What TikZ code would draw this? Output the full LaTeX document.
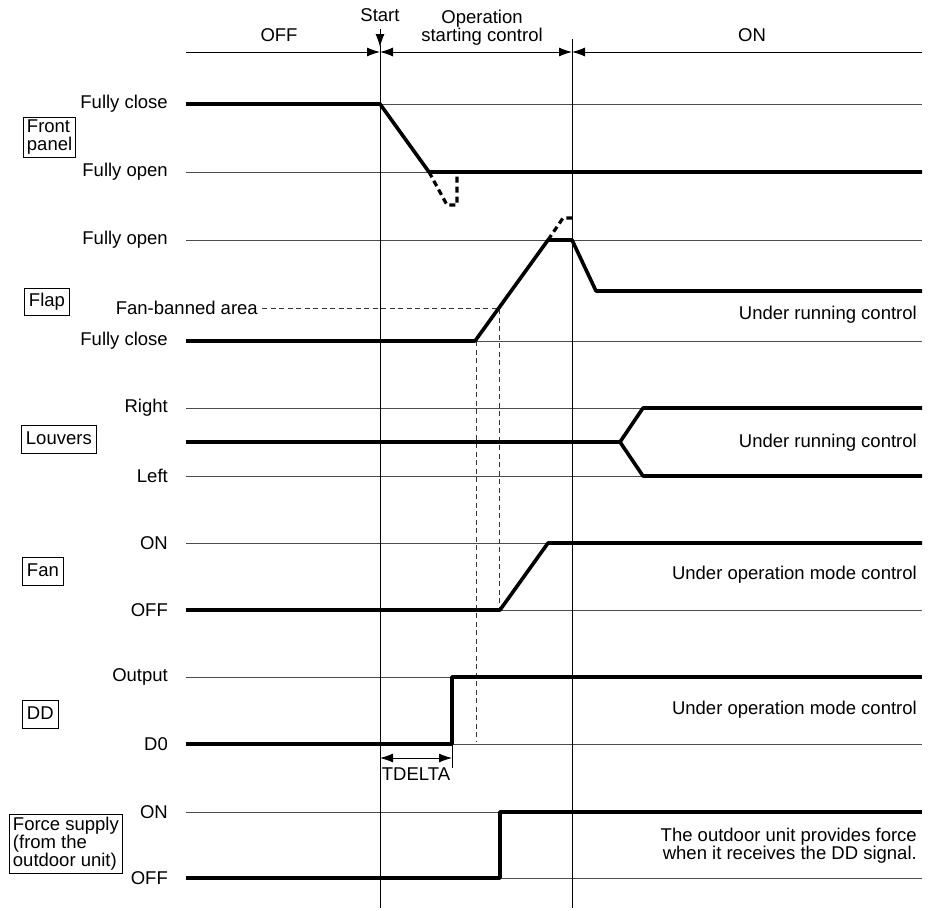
\documentclass[tikz,border=0pt]{standalone}
\usepackage{fontspec}
\setmainfont{Liberation Sans}
\usetikzlibrary{arrows.meta}
\begin{document}
\begin{tikzpicture}[x=1pt,y=-1pt,
  every node/.style={font=\fontsize{18.5}{18}\selectfont, inner sep=0pt},
  gridline/.style={draw=black!70, line width=0.9pt},
  vline/.style={draw=black, line width=0.9pt},
  sig/.style={draw=black, line width=3.6pt, line join=round},
  sigdash/.style={draw=black, line width=3.2pt, dash pattern=on 6pt off 4pt},
  thindash/.style={draw=black!80, line width=0.9pt, dash pattern=on 5pt off 3.5pt},
  lvl/.style={anchor=east},
  rtext/.style={anchor=east, align=right},
  sigbox/.style={draw, line width=0.9pt, anchor=west, inner xsep=4.5pt, inner ysep=5pt, text height=13.5pt, text depth=4pt},
  mbox/.style={draw, line width=0.9pt, anchor=west, inner xsep=3.5pt, inner ysep=3pt, align=left},
  tip/.style={-{Latex[length=13pt,width=9pt]}, line width=0.9pt},
  tips/.style={{Latex[length=13pt,width=9pt]}-{Latex[length=13pt,width=9pt]}, line width=0.9pt}
]
\useasboundingbox (0,0) rectangle (928,910);

% ---- grid lines
\foreach \yy in {104,172,240,341,408,476,543,610,677,744,812,878}
  \draw[gridline] (186,\yy) -- (922,\yy);

% ---- phase verticals
\draw[vline] (380,45) -- (380,908);
\draw[vline] (572,39) -- (572,908);

% ---- top phase arrows
\draw[tip] (186,52) -- (380,52);
\draw[tips] (380,52) -- (572,52);
\draw[tip] (922,52) -- (572,52);
\draw[tip] (380,29) -- (380,47);
\node (start) at (380,15) {Start};
\node (offph) at (279,35) {OFF};
\node[align=center] (opph) at (482,28) {Operation\\starting control};
\node (onph) at (752,35) {ON};

% ---- left level labels
\node[lvl] (fp1) at (168,104) {Fully close};
\node[lvl] (fp2) at (168,172) {Fully open};
\node[lvl] (fl1) at (168,240) {Fully open};
\node[lvl] (fl2) at (168,341) {Fully close};
\node[lvl] (fban) at (258,308) {Fan-banned area};
\node[lvl] (lr) at (168,408) {Right};
\node[lvl] (ll) at (168,476) {Left};
\node[lvl] (fon) at (168,543) {ON};
\node[lvl] (foff) at (168,610) {OFF};
\node[lvl] (dout) at (168,677) {Output};
\node[lvl] (dzero) at (168,744) {D0};
\node[lvl] (son) at (168,812) {ON};
\node[lvl] (soff) at (168,878) {OFF};

% ---- signal name boxes
\node[mbox] (bfront) at (23,137.5) {Front\\panel};
\node[sigbox] (bflap) at (24,302) {Flap};
\node[sigbox] (blouv) at (21,439.5) {Louvers};
\node[sigbox] (bfan) at (22,571.5) {Fan};
\node[sigbox] (bdd) at (22,714.5) {DD};
\node[mbox] (bforce) at (9,844) {Force supply\\(from the\\outdoor unit)};

% ---- right notes
\node[rtext] (n1) at (917,315) {Under running control};
\node[rtext] (n2) at (917,443) {Under running control};
\node[rtext] (n3) at (917,575) {Under operation mode control};
\node[rtext] (n4) at (917,710) {Under operation mode control};
\node[rtext] (n5) at (917,846) {The outdoor unit provides force\\when it receives the DD signal.};

% ---- thin dashed guides
\draw[thindash] (262,308) -- (499,308) -- (499,610);
\draw[thindash] (476,341) -- (476,742);

% ---- signals
\draw[sig] (186,104) -- (380,104) -- (429,172) -- (922,172);
\draw[sigdash] (429,172) -- (447,205) -- (457,205) -- (457,172);

\draw[sig] (186,341) -- (475,341) -- (548,240) -- (572,240) -- (596,291) -- (922,291);
\draw[sigdash] (548,240) -- (563,218) -- (573,218);

\draw[sig] (186,442) -- (620,442) -- (643,408) -- (922,408);
\draw[sig] (620,442) -- (643,476) -- (922,476);

\draw[sig] (186,610) -- (500,610) -- (548,543) -- (922,543);

\draw[sig] (186,744) -- (452,744) -- (452,677) -- (922,677);

\draw[sig] (186,878) -- (500,878) -- (500,812) -- (922,812);

% ---- TDELTA
\draw[vline] (452,744) -- (452,768);
\draw[tips] (380,758) -- (452,758);
\node (td) at (416,774) {TDELTA};
\end{tikzpicture}
\end{document}
